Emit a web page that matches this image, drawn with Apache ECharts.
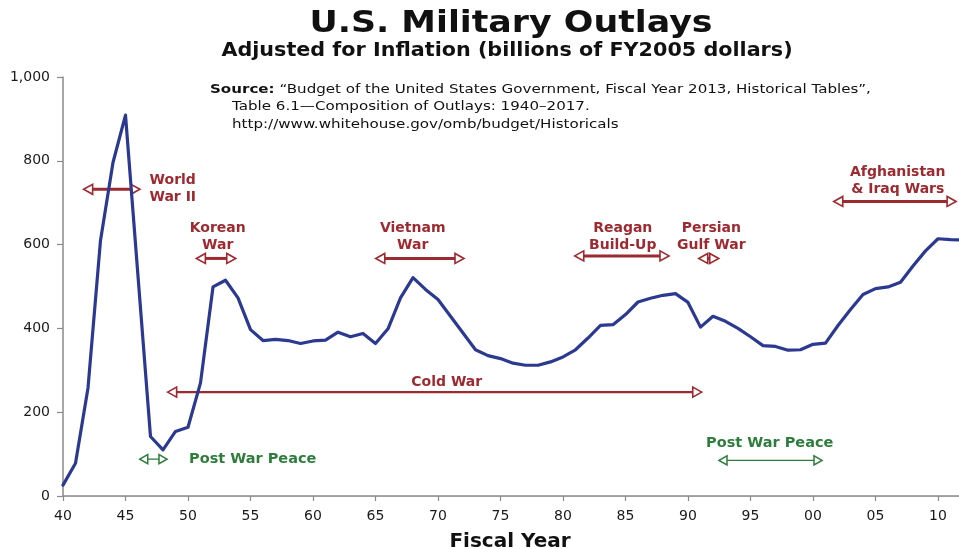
<!DOCTYPE html>
<html>
<head>
<meta charset="utf-8">
<title>U.S. Military Outlays</title>
<script src="https://cdn.jsdelivr.net/npm/echarts@6/dist/echarts.min.js"></script>
<style>
  html, body { margin: 0; padding: 0; background: #ffffff; }
  #chart { width: 959px; height: 549px; }
</style>
</head>
<body>
<div id="chart"></div>
<script>
// Fiscal years and defense outlays (billions of FY2005 dollars)
const years = [
  1940, 1941, 1942, 1943, 1944, 1945, 1946, 1947, 1948, 1949,
  1950, 1951, 1952, 1953, 1954, 1955, 1956, 1957, 1958, 1959,
  1960, 1961, 1962, 1963, 1964, 1965, 1966, 1967, 1968, 1969,
  1970, 1971, 1972, 1973, 1974, 1975, 1976, 1977, 1978, 1979,
  1980, 1981, 1982, 1983, 1984, 1985, 1986, 1987, 1988, 1989,
  1990, 1991, 1992, 1993, 1994, 1995, 1996, 1997, 1998, 1999,
  2000, 2001, 2002, 2003, 2004, 2005, 2006, 2007, 2008, 2009,
  2010, 2011, 2012
];
const outlays = [
  26, 78, 258, 610, 796, 909, 525, 142, 110, 154,
  164, 270, 499, 515, 473, 397, 371, 374, 371, 364,
  370, 372, 391, 380, 388, 364, 399, 473, 521, 493,
  469, 429, 389, 349, 335, 328, 317, 312, 312, 320,
  332, 349, 377, 407, 409, 433, 463, 472, 479, 483,
  462, 403, 429, 417, 400, 380, 359, 357, 348, 349,
  362, 365, 407, 445, 481, 495, 499, 510, 549, 585,
  614, 612, 611
];

// Axis tick values and their labels
const xTickYears = [1940, 1945, 1950, 1955, 1960, 1965, 1970, 1975, 1980, 1985, 1990, 1995, 2000, 2005, 2010];
const xTickLabels = ['40', '45', '50', '55', '60', '65', '70', '75', '80', '85', '90', '95', '00', '05', '10'];
const yTickValues = [0, 200, 400, 600, 800, 1000];
const yTickLabels = ['0', '200', '400', '600', '800', '1,000'];

// Period annotations: span in fiscal years, level in billions
const periodNames = [
  'World War II', 'Korean War', 'Vietnam War', 'Reagan Build-Up', 'Persian Gulf War',
  'Afghanistan & Iraq Wars', 'Cold War', 'Post War Peace', 'Post War Peace'
];
const periodStart = [1941.65, 1950.67, 1965.02, 1980.94, 1990.86, 2001.66, 1948.37, 1946.14, 1992.48];
const periodEnd   = [1946.15, 1953.82, 1972.08, 1988.48, 1992.46, 2011.45, 1991.10, 1948.32, 2000.72];
const periodLevel = [732, 567, 567, 573, 567, 703, 248, 88, 85];
const periodKind  = ['war', 'war', 'war', 'war', 'war', 'war', 'cold', 'peace', 'peace'];

// Annotation captions and their anchor (year, value)
const captionTexts = [
  'World\nWar II', 'Korean\nWar', 'Vietnam\nWar', 'Reagan\nBuild-Up', 'Persian\nGulf War',
  'Afghanistan\n& Iraq Wars', 'Cold War', 'Post War Peace', 'Post War Peace'
];
const captionYear  = [1948.78, 1952.38, 1967.98, 1984.78, 1991.87, 2006.78, 1970.70, 1955.18, 1996.54];
const captionValue = [733, 618, 618, 618, 618, 752, 272, 88, 127];
const captionKind  = ['war', 'war', 'war', 'war', 'war', 'war', 'cold', 'peace', 'peace'];

const RED = '#9c2a30';
const GREEN = '#2f7d3d';
const BLUE = '#2b3990';

const arrowStyles = {
  war:   { color: RED,   width: 3,   head: 9, half: 5,   headStroke: 1.6 },
  cold:  { color: RED,   width: 2.2, head: 9, half: 5,   headStroke: 1.6 },
  peace: { color: GREEN, width: 1.3, head: 8, half: 4.5, headStroke: 1.5 }
};
const captionColors = { war: RED, cold: RED, peace: GREEN };
const captionFonts = {
  war: 'bold 14px "DejaVu Sans", Verdana, sans-serif',
  cold: 'bold 14px "DejaVu Sans", Verdana, sans-serif',
  peace: 'bold 14.5px "DejaVu Sans", Verdana, sans-serif'
};

const seriesData = years.map((y, i) => [y, outlays[i]]);
const arrowData = periodStart.map((s, i) => [s, periodEnd[i], periodLevel[i], i]);
const captionData = captionYear.map((y, i) => [y, captionValue[i], i]);

// Double-headed arrow with hollow heads spanning a period
function renderArrow(params, api) {
  const idx = api.value(3);
  const st = arrowStyles[periodKind[idx]];
  const p1 = api.coord([api.value(0), api.value(2)]);
  const p2 = api.coord([api.value(1), api.value(2)]);
  const y = p1[1];
  const xl = p1[0], xr = p2[0];
  const h = st.head, a = st.half;
  return {
    type: 'group',
    children: [
      {
        type: 'line',
        shape: { x1: xl + h, y1: y, x2: xr - h, y2: y },
        style: { stroke: st.color, lineWidth: st.width }
      },
      {
        type: 'polygon',
        shape: { points: [[xl, y], [xl + h, y - a], [xl + h, y + a]] },
        style: { fill: '#ffffff', stroke: st.color, lineWidth: st.headStroke, lineJoin: 'miter' }
      },
      {
        type: 'polygon',
        shape: { points: [[xr, y], [xr - h, y - a], [xr - h, y + a]] },
        style: { fill: '#ffffff', stroke: st.color, lineWidth: st.headStroke, lineJoin: 'miter' }
      }
    ]
  };
}

function renderCaption(params, api) {
  const idx = api.value(2);
  const p = api.coord([api.value(0), api.value(1)]);
  const kind = captionKind[idx];
  return {
    type: 'text',
    x: p[0],
    y: p[1],
    style: {
      text: captionTexts[idx],
      fill: captionColors[kind],
      font: captionFonts[kind],
      align: 'center',
      verticalAlign: 'middle',
      lineHeight: 16.5
    }
  };
}

const chart = echarts.init(document.getElementById('chart'), null, { renderer: 'canvas' });

chart.setOption({
  backgroundColor: '#ffffff',
  animation: false,
  grid: { left: 63, right: 0, top: 77, bottom: 53, containLabel: false, outerBoundsMode: 'none' },
  graphic: [
    {
      type: 'text',
      x: 511, y: 24,
      scaleX: 1.16,
      style: {
        text: 'U.S. Military Outlays',
        font: 'bold 30px "DejaVu Sans", sans-serif',
        fill: '#111111',
        align: 'center',
        verticalAlign: 'middle'
      }
    },
    {
      type: 'text',
      x: 507, y: 51,
      scaleX: 1.035,
      style: {
        text: 'Adjusted for Inflation (billions of FY2005 dollars)',
        font: 'bold 20px "DejaVu Sans", sans-serif',
        fill: '#111111',
        align: 'center',
        verticalAlign: 'middle'
      }
    },
    {
      type: 'text',
      x: 210, y: 81,
      scaleX: 1.16,
      style: {
        text: '{b|Source:} “Budget of the United States Government, Fiscal Year 2013, Historical Tables”,\n' +
              '{i|}Table 6.1—Composition of Outlays: 1940–2017.\n' +
              '{i|}http://www.whitehouse.gov/omb/budget/Historicals',
        font: '13px "DejaVu Sans", sans-serif',
        fill: '#111111',
        lineHeight: 17.4,
        align: 'left',
        verticalAlign: 'top',
        rich: {
          b: { font: 'bold 13px "DejaVu Sans", sans-serif', fill: '#111111' },
          i: { width: 19 }
        }
      }
    },
    {
      type: 'text',
      x: 510, y: 542,
      style: {
        text: 'Fiscal Year',
        font: 'bold 20px "DejaVu Sans", sans-serif',
        fill: '#111111',
        align: 'center',
        verticalAlign: 'middle'
      }
    }
  ],
  xAxis: [
    {
      type: 'value',
      min: 1940,
      max: 2011.68,
      interval: 5,
      position: 'bottom',
      axisLine: { show: true, onZero: false, lineStyle: { color: '#8a8a8a', width: 1.5 } },
      axisTick: { show: true, length: 5, lineStyle: { color: '#8a8a8a', width: 1.2 } },
      splitLine: { show: false },
      axisLabel: {
        margin: 13,
        fontFamily: 'DejaVu Sans',
        fontSize: 14,
        color: '#1a1a1a',
        showMaxLabel: false,
        formatter: function (v) {
          const k = xTickYears.indexOf(Math.round(v));
          return (k >= 0 && Math.abs(v - xTickYears[k]) < 1e-6) ? xTickLabels[k] : '';
        }
      }
    },
    {
      type: 'value',
      min: 1940,
      max: 2011.68,
      position: 'top',
      axisLine: { show: true, lineStyle: { color: '#a0a0a0', width: 1.2 } },
      axisTick: { show: false },
      axisLabel: { show: false },
      splitLine: { show: false }
    }
  ],
  yAxis: {
    type: 'value',
    min: 0,
    max: 1000,
    interval: 200,
    axisLine: { show: true, lineStyle: { color: '#8a8a8a', width: 1.5 } },
    axisTick: { show: true, length: 6, lineStyle: { color: '#8a8a8a', width: 1.2 } },
    splitLine: { show: false },
    axisLabel: {
      margin: 13,
      fontFamily: 'DejaVu Sans',
      fontSize: 14,
      color: '#1a1a1a',
      formatter: function (v) {
        const k = yTickValues.indexOf(v);
        return k >= 0 ? yTickLabels[k] : '';
      }
    }
  },
  series: [
    {
      type: 'custom',
      name: 'periods',
      xAxisIndex: 0,
      clip: false,
      renderItem: renderArrow,
      data: arrowData,
      z: 3,
      silent: true
    },
    {
      type: 'custom',
      name: 'captions',
      xAxisIndex: 0,
      clip: false,
      renderItem: renderCaption,
      data: captionData,
      z: 3,
      silent: true
    },
    {
      type: 'line',
      name: 'Military outlays',
      xAxisIndex: 0,
      data: seriesData,
      showSymbol: false,
      symbol: 'none',
      clip: true,
      lineStyle: { color: BLUE, width: 3.2, join: 'round', cap: 'round' },
      z: 5,
      silent: true
    }
  ]
});
</script>
</body>
</html>
